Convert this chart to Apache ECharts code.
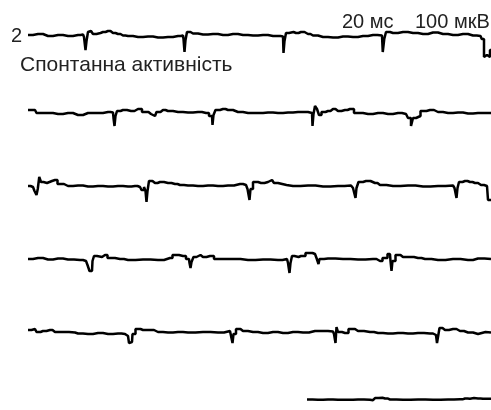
<!DOCTYPE html>
<html>
<head>
<meta charset="utf-8">
<script src="https://cdn.jsdelivr.net/npm/echarts@6/dist/echarts.min.js"></script>
<style>html,body{margin:0;padding:0;background:#fff}#c{width:491px;height:410px}</style>
</head>
<body>
<div id="c"></div>
<script>
// Spontaneous activity EMG sweeps: [time ms, amplitude µV]
var trace1 = [[0,0],[2,10],[4,-10],[6,0],[8,-10],[10,0],[11,5],[11.4,-20],[11.6,-150],[11.8,-60],[12.2,30],[12.6,40],[13.4,10],[14,20],[15,30],[16,40],[17,20],[18,10],[19,-5],[20,-10],[22,-20],[24,-15],[26,-25],[28,-20],[30,-10],[31,-5],[31.2,-40],[31.4,-170],[31.6,-50],[32,30],[33,15],[35,5],[37,10],[39,0],[41,10],[43,0],[45,-5],[47,0],[49,-10],[50,-10],[51,-15],[51.2,-180],[51.4,-60],[51.8,20],[52.6,30],[53.6,20],[54.6,30],[56,10],[57,-5],[59,-20],[61,-25],[63,-15],[65,-20],[67,-10],[69,0],[70.8,-5],[71.1,-170],[71.4,-40],[71.8,30],[73,20],[75,30],[77,20],[79,10],[81,25],[83,10],[85,0],[87,10],[89,-5],[90.5,-10],[91,-40],[91.4,-220],[91.8,-200],[92.2,-220],[92.6,-150]];
var trace2 = [[0,20],[1.4,20],[2,-10],[4,-10],[6,-20],[8,-10],[10,-30],[12,-10],[14,-10],[16,0],[17,-5],[17.2,-60],[17.4,-140],[17.6,-40],[18,10],[19,20],[20.6,10],[22,30],[23.6,0],[24.6,-20],[25.4,-40],[26,0],[27,20],[28,10],[30,0],[32,-5],[34,0],[35.6,-10],[36.8,-40],[37,-130],[37.2,-30],[37.8,20],[39,30],[40,20],[42,0],[44,-10],[46,-10],[48,-5],[50,-10],[52,-5],[54,0],[56,0],[56.8,-10],[57,-140],[57.2,-20],[57.6,60],[58,30],[58.4,-30],[59,0],[60,10],[61,30],[62,10],[63.4,20],[64.4,30],[66,-10],[68,-20],[70,-10],[72,-20],[74,-10],[75.6,-20],[76.4,-60],[76.8,-140],[77.2,-60],[78,-40],[79,10],[80.4,20],[82,0],[84,-10],[86,-5],[88,-15],[90,-10],[92.6,-10]];
var trace3 = [[0,-10],[1,-20],[1.6,-60],[1.8,-100],[2.1,-40],[2.4,80],[2.8,30],[3.4,20],[4.2,40],[5.4,50],[6.4,10],[8,-10],[10,-5],[12,-15],[14,-10],[16,-15],[18,-10],[20,-15],[21.4,-10],[22.4,-20],[23,-50],[23.4,-20],[23.6,-60],[23.8,-170],[24,-60],[24.4,40],[25.4,20],[26.4,30],[28,20],[29.4,10],[30.4,0],[32,-5],[34,-10],[36,-5],[38,-10],[40,-5],[42.4,10],[43.6,0],[44.2,-40],[44.4,-150],[44.6,-40],[45.4,30],[46.6,20],[48,30],[48.8,50],[49.6,20],[50.4,0],[53,-10],[56,-5],[59,-15],[62,-10],[64.6,-5],[65.4,-30],[65.6,-130],[65.8,-30],[66.4,30],[67.6,40],[69.4,20],[70.4,0],[73,-10],[76,-5],[79,-15],[82,-10],[85,-5],[85.6,-30],[85.8,-130],[86,-30],[86.4,30],[87.4,40],[88.4,30],[89.4,20],[90.6,0],[91.8,-10],[92.2,-150],[92.6,-150]];
var trace4 = [[0,0],[2,10],[4,-5],[6,5],[8,-5],[10.4,-10],[11.6,-20],[12.2,-60],[12.4,-120],[12.8,-120],[13,-20],[13.4,30],[14.2,20],[15.4,40],[16.4,10],[18.4,0],[20,-10],[23,-5],[26,-10],[28.4,10],[29.4,40],[31,30],[32.2,0],[32.4,-40],[32.6,-90],[32.8,-30],[33.4,20],[34,40],[35,20],[36.4,30],[38,0],[41,0],[44,-10],[47,-5],[50,-10],[51.8,0],[52.2,-40],[52.4,-140],[52.6,-40],[53,30],[53.6,20],[54.6,30],[56.4,60],[57.4,50],[58,10],[58.2,-50],[58.4,0],[60,5],[63,0],[66,-5],[69,0],[70.4,-20],[71.4,10],[72.4,50],[72.6,-20],[72.8,-120],[73,-20],[74,40],[75,20],[76.4,20],[78,10],[79.4,0],[82,-10],[85,0],[88,-10],[90,5],[92.6,0]];
var trace5 = [[0,20],[1.4,30],[2,0],[3,10],[4.4,20],[5.4,0],[7,0],[9.4,-5],[10,-15],[12,-20],[14,-10],[16,-20],[18,-15],[19.4,-20],[20,-40],[20.4,-110],[20.8,-100],[21,-20],[22,30],[23,20],[24.4,20],[26,0],[28,-5],[30,0],[32,-5],[35,0],[38,-5],[40.4,10],[40.8,-10],[41,-110],[41.2,-20],[42,30],[43,10],[45,0],[47,-10],[49,0],[51,-10],[53,0],[55,-5],[57.4,10],[59,10],[61,5],[61.4,-20],[61.6,-110],[61.8,50],[62.2,0],[63.4,-10],[64.8,30],[66,10],[68.4,0],[70,-10],[72,-15],[74,-10],[76,-15],[78,-10],[80.4,-15],[81.6,-30],[82,-110],[82.2,-20],[82.4,40],[83.4,20],[85,30],[86.4,10],[88,-5],[90,-20],[90.4,0],[92.6,-5]];
var trace6 = [[55.8,0],[58,-5],[60,0],[62,-10],[64,-5],[66,0],[68.4,-5],[69,-20],[69.8,40],[70.4,50],[71.4,30],[72.4,0],[75,-5],[78,0],[81,-5],[84,0],[86.4,5],[87.4,30],[88.4,20],[89.2,40],[90,30],[91,20],[92.6,20]];

var traces = [trace1, trace2, trace3, trace4, trace5, trace6];
var labels = { number: '2', title: 'Спонтанна активність', time: '20 мс', amp: '100 мкВ' };

// layout
var gridTops = [25, 102, 175, 249, 322, 396];
var font = '"Liberation Sans", Arial, sans-serif';

var grids = [], xAxes = [], yAxes = [], series = [];
traces.forEach(function (tr, i) {
  grids.push({ left: 28, width: 463, top: gridTops[i], height: 40 });
  xAxes.push({ type: 'value', gridIndex: i, min: 0, max: 92.6, show: false });
  yAxes.push({ type: 'value', gridIndex: i, min: -300, max: 100, show: false });
  series.push({
    type: 'line', xAxisIndex: i, yAxisIndex: i, data: tr,
    showSymbol: false, symbol: 'none', clip: false, step: 'middle',
    lineStyle: { color: '#000', width: 2.5, join: 'bevel', cap: 'butt' }
  });
});

var chart = echarts.init(document.getElementById('c'), null, { renderer: 'canvas' });
chart.setOption({
  animation: false,
  backgroundColor: '#fff',
  grid: grids, xAxis: xAxes, yAxis: yAxes, series: series,
  graphic: [
    { type: 'text', left: 11, top: 26, style: { text: labels.number, font: '20px ' + font, fill: '#222' } },
    { type: 'text', left: 20, top: 55, style: { text: labels.title, font: '21px ' + font, fill: '#222' } },
    { type: 'text', left: 342, top: 12, style: { text: labels.time, font: '20px ' + font, fill: '#222' } },
    { type: 'text', left: 415, top: 12, style: { text: labels.amp, font: '20px ' + font, fill: '#222' } }
  ]
});
</script>
</body>
</html>
